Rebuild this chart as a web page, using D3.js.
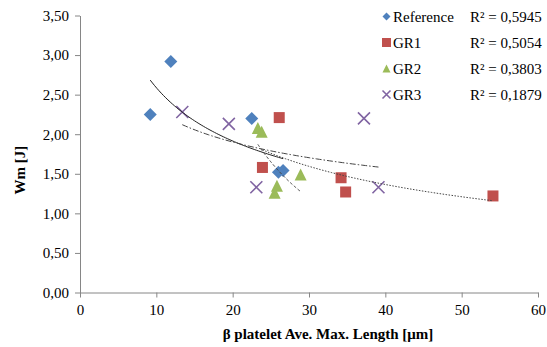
<!DOCTYPE html>
<html>
<head>
<meta charset="utf-8">
<script src="https://cdn.jsdelivr.net/npm/d3@7"></script>
</head>
<body style="margin:0;background:#fff">
<svg id="chart" width="547" height="347"></svg>
<script>
// data
let seriesNames = ["Reference", "GR1", "GR2", "GR3"];
let r2Labels = ["R² = 0,5945", "R² = 0,5054", "R² = 0,3803", "R² = 0,1879"];
let refX = [9.2, 11.9, 22.5, 26.0, 26.6];
let refY = [2.25, 2.92, 2.20, 1.52, 1.54];
let gr1X = [26.1, 23.9, 34.2, 34.8, 54.1];
let gr1Y = [2.21, 1.58, 1.45, 1.27, 1.22];
let gr2X = [23.3, 23.8, 28.9, 25.8, 25.5];
let gr2Y = [2.08, 2.03, 1.49, 1.35, 1.26];
let gr3X = [13.4, 19.5, 23.1, 39.1, 37.2];
let gr3Y = [2.28, 2.13, 1.33, 1.33, 2.20];
let xTicks = [0, 10, 20, 30, 40, 50, 60];
let yTicks = [0, 0.5, 1, 1.5, 2, 2.5, 3, 3.5];

let colors = ["#4F81BD", "#C0504D", "#9BBB59", "#8064A2"];
let shapes = ["diamond", "square", "triangle", "cross"];
let dashes = [null, "1.5,1.5", "3,2", "6,2,1.5,2"];
let FONT = "'Liberation Serif'";

let series = [[refX, refY], [gr1X, gr1Y], [gr2X, gr2Y], [gr3X, gr3Y]].map(function(s, i) {
  return {
    name: seriesNames[i],
    r2: r2Labels[i],
    points: s[0].map(function(x, j) { return {x: x, y: s[1][j]}; })
  };
});

let svg = d3.select("#chart");

let x = d3.scaleLinear().domain([0, 60]).range([80, 538]);
let y = d3.scaleLinear().domain([0, 3.5]).range([292.5, 15.5]);

// axes
let xAxis = svg.append("g")
  .attr("transform", "translate(0,292.5)")
  .call(d3.axisBottom(x).tickValues(xTicks).tickSize(5).tickSizeOuter(0).tickPadding(7));
let yAxis = svg.append("g")
  .attr("transform", "translate(80,0)")
  .call(d3.axisLeft(y).tickValues(yTicks).tickSize(5).tickSizeOuter(0).tickPadding(6)
    .tickFormat(function(d) { return d3.format(".2f")(d).replace(".", ","); }));

[xAxis, yAxis].forEach(function(a) {
  a.select(".domain").attr("stroke", "#868686");
  a.selectAll(".tick line").attr("stroke", "#868686");
  a.selectAll("text").style("font-family", FONT).style("font-size", "15px").attr("fill", "#000");
});

svg.append("text")
  .attr("x", 328).attr("y", 339)
  .attr("text-anchor", "middle")
  .style("font-family", FONT).style("font-size", "15px").style("font-weight", "bold")
  .text("β platelet Ave. Max. Length [μm]");

svg.append("text")
  .attr("transform", "translate(25,170) rotate(-90)")
  .attr("text-anchor", "middle")
  .style("font-family", FONT).style("font-size", "15px").style("font-weight", "bold")
  .text("Wm [J]");

function marker(g, shape, color, s) {
  if (shape === "diamond") {
    g.append("path").attr("d", "M0," + (-s) + "L" + s + ",0L0," + s + "L" + (-s) + ",0Z").attr("fill", color);
  } else if (shape === "square") {
    g.append("rect").attr("x", -s).attr("y", -s).attr("width", 2 * s).attr("height", 2 * s).attr("fill", color);
  } else if (shape === "triangle") {
    g.append("path").attr("d", "M0," + (-s) + "L" + s + "," + s + "L" + (-s) + "," + s + "Z").attr("fill", color);
  } else {
    g.append("path").attr("d", "M" + (-s) + "," + (-s) + "L" + s + "," + s + "M" + s + "," + (-s) + "L" + (-s) + "," + s)
      .attr("stroke", color).attr("stroke-width", 1.6).attr("fill", "none");
  }
}

let markerSize = [6.5, 5.5, 6, 6];

series.forEach(function(s, i) {
  let g = svg.append("g");
  s.points.forEach(function(p) {
    let m = g.append("g").attr("transform", "translate(" + x(p.x) + "," + y(p.y) + ")");
    marker(m, shapes[i], colors[i], markerSize[i]);
  });
});

// power trendlines y = a * x^b fitted on the points
function powerFit(pts) {
  let lx = pts.map(function(p) { return Math.log(p.x); });
  let ly = pts.map(function(p) { return Math.log(p.y); });
  let mx = d3.mean(lx), my = d3.mean(ly);
  let sxy = d3.sum(lx, function(v, k) { return (v - mx) * (ly[k] - my); });
  let sxx = d3.sum(lx, function(v) { return (v - mx) * (v - mx); });
  let b = sxy / sxx;
  let a = Math.exp(my - b * mx);
  return function(v) { return a * Math.pow(v, b); };
}

let line = d3.line().x(function(d) { return x(d[0]); }).y(function(d) { return y(d[1]); });

series.forEach(function(s, i) {
  let f = powerFit(s.points);
  let ext = d3.extent(s.points, function(p) { return p.x; });
  let xs = d3.range(0, 61).map(function(k) { return ext[0] + (ext[1] - ext[0]) * k / 60; });
  svg.append("path")
    .attr("d", line(xs.map(function(v) { return [v, f(v)]; })))
    .attr("fill", "none")
    .attr("stroke", i === 0 ? "#222" : "#444")
    .attr("stroke-width", 1)
    .attr("stroke-dasharray", dashes[i]);
});

// legend
let legend = svg.append("g");
let legSize = [4, 4.5, 4, 4];
series.forEach(function(s, i) {
  let ly = 16.5 + i * 26;
  let m = legend.append("g").attr("transform", "translate(386.5," + ly + ")");
  marker(m, shapes[i], colors[i], legSize[i]);
  legend.append("text").attr("x", 393).attr("y", ly + 5)
    .style("font-family", FONT).style("font-size", "15px").text(s.name);
  legend.append("text").attr("x", 470).attr("y", ly + 5)
    .style("font-family", FONT).style("font-size", "15px").text(s.r2);
});
</script>
</body>
</html>
